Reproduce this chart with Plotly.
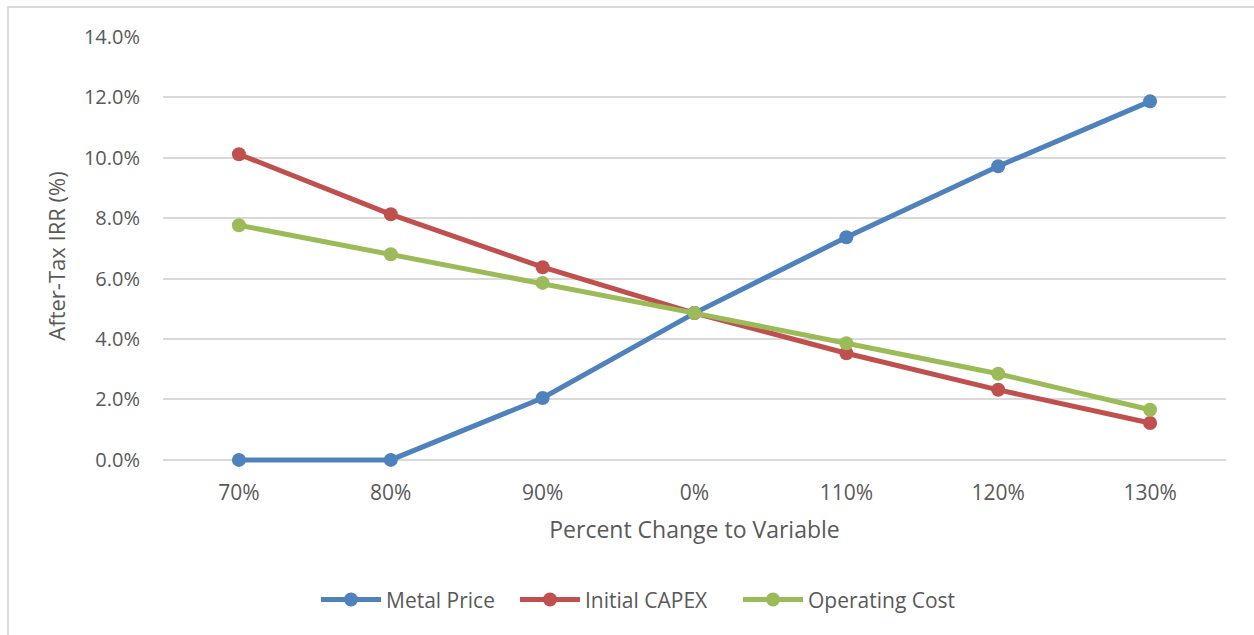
import plotly.graph_objects as go

# Sensitivity of after-tax IRR to each input variable
categories = ["70%", "80%", "90%", "0%", "110%", "120%", "130%"]
metal_price = [0.0, 0.0, 2.05, 4.86, 7.37, 9.72, 11.87]
initial_capex = [10.12, 8.13, 6.38, 4.86, 3.53, 2.32, 1.22]
operating_cost = [7.77, 6.81, 5.86, 4.86, 3.86, 2.85, 1.66]
y_ticks = [0, 2, 4, 6, 8, 10, 12, 14]
y_tick_labels = [f"{v:.1f}%" for v in y_ticks]

series = [
    ("Metal Price", metal_price, "#4F81BD"),
    ("Initial CAPEX", initial_capex, "#C0504D"),
    ("Operating Cost", operating_cost, "#9BBB59"),
]

font_family = "Open Sans, Liberation Sans, sans-serif"
text_color = "#595959"

# Small headroom below zero so the flat zero segment is not clipped
y_min = -0.5
px_per_unit = 423 / 14
plot_h = (14 - y_min) * px_per_unit
plot_w = 1254 - 163 - 28

# Each series gets its own legend box so the entries can be spaced apart
legend_names = ["legend", "legend2", "legend3"]
legend_left_px = [316, 515, 738]

fig = go.Figure()
for (name, values, color), lg in zip(series, legend_names):
    fig.add_trace(go.Scatter(
        x=categories, y=values, name=name, mode="lines+markers",
        line=dict(color=color, width=5),
        marker=dict(color=color, size=14),
        cliponaxis=False, legend=lg,
    ))

legend_y = -(600 - 37 - plot_h) / plot_h
legend_boxes = {
    lg: dict(orientation="h", x=(px - 163) / plot_w, xanchor="left", y=legend_y,
             yanchor="middle", font=dict(size=21, color=text_color), itemwidth=60,
             bgcolor="rgba(0,0,0,0)")
    for lg, px in zip(legend_names, legend_left_px)
}

bottom = 635 - 37 - plot_h
fig.update_layout(
    width=1254, height=635,
    margin=dict(l=163, r=28, t=37, b=bottom),
    paper_bgcolor="white", plot_bgcolor="white",
    font=dict(family=font_family, color=text_color, size=20),
    showlegend=True,
    xaxis=dict(
        type="category", range=[-0.5, 6.5], showgrid=False, zeroline=False,
        showline=False, ticks="", ticklabelstandoff=3,
        tickfont=dict(size=21, color=text_color),
        title=dict(text="Percent Change to Variable", font=dict(size=23, color=text_color), standoff=16),
    ),
    yaxis=dict(
        range=[y_min, 14], tickvals=y_ticks, ticktext=y_tick_labels,
        showgrid=True, gridcolor="#D9D9D9", gridwidth=1.5, zeroline=False,
        showline=False, ticks="", ticklabelstandoff=22,
        tickfont=dict(size=20, color=text_color),
        title=dict(text="After-Tax IRR (%)", font=dict(size=22, color=text_color), standoff=12),
    ),
    shapes=[dict(type="rect", xref="paper", yref="paper",
                 x0=-155/plot_w, x1=1.2, y0=-0.6, y1=1 + 30/plot_h,
                 line=dict(color="#D9D9D9", width=2), fillcolor="rgba(0,0,0,0)", layer="below")],
    **legend_boxes,
)

fig.write_html("out.html")
